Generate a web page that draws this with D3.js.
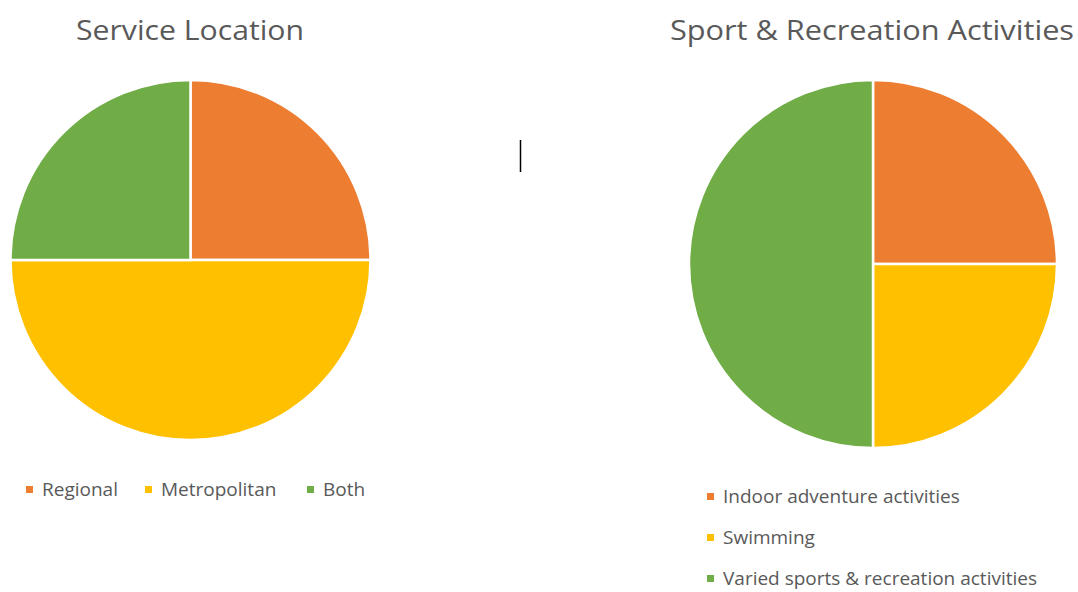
<!DOCTYPE html>
<html>
<head>
<meta charset="utf-8">
<script src="https://cdn.jsdelivr.net/npm/d3@7"></script>
<style>
  body { margin: 0; background: white; }
</style>
</head>
<body>
<svg id="chart"></svg>
<script>
// data
let location_labels = ["Regional", "Metropolitan", "Both"];
let location_values = [1, 2, 1];
let activity_labels = ["Indoor adventure activities", "Swimming", "Varied sports & recreation activities"];
let activity_values = [1, 1, 2];
let colors = ["#ED7D31", "#FFC000", "#70AD47"];

let width = 1078;
let height = 592;
let font_family = "Open Sans";
let text_color = "#595959";

let svg = d3.select("#chart")
    .attr("width", width)
    .attr("height", height)
    .style("background-color", "white");

function drawPie(labels, values, cx, cy, r) {
    let pie = d3.pie().sort(null).value(d => d);
    let arc = d3.arc().innerRadius(0).outerRadius(r);
    let color = d3.scaleOrdinal().domain(labels).range(colors);

    let g = svg.append("g")
        .attr("transform", "translate(" + cx + "," + cy + ")");

    g.selectAll("path")
        .data(pie(values))
        .enter()
        .append("path")
        .attr("d", arc)
        .attr("fill", (d, i) => color(labels[i]))
        .attr("stroke", "white")
        .attr("stroke-width", 2.5);
}

function drawTitle(text, x, y, w) {
    svg.append("text")
        .attr("x", x)
        .attr("y", y)
        .attr("text-anchor", "middle")
        .attr("font-family", font_family)
        .attr("font-size", "28px")
        .attr("fill", text_color)
        .attr("textLength", w)
        .attr("lengthAdjust", "spacingAndGlyphs")
        .text(text);
}

function legendItem(label, x, y, col) {
    svg.append("rect")
        .attr("x", x)
        .attr("y", y - 3.5)
        .attr("width", 7)
        .attr("height", 7)
        .attr("fill", col);
    svg.append("text")
        .attr("x", x + 16)
        .attr("y", y + 6.5)
        .attr("font-family", font_family)
        .attr("font-size", "19px")
        .attr("fill", text_color)
        .text(label);
}

// left chart
drawTitle("Service Location", 190, 40, 228);
drawPie(location_labels, location_values, 190.5, 260, 180);
let leftX = [26, 145, 307];
location_labels.forEach((l, i) => legendItem(l, leftX[i], 489.5, colors[i]));

// right chart
drawTitle("Sport & Recreation Activities", 872, 40, 404);
drawPie(activity_labels, activity_values, 873, 264, 184);
activity_labels.forEach((l, i) => legendItem(l, 707, 496.5 + i * 41, colors[i]));

// stray text cursor
svg.append("line")
    .attr("x1", 520.5)
    .attr("y1", 140)
    .attr("x2", 520.5)
    .attr("y2", 172)
    .attr("stroke", "black")
    .attr("stroke-width", 1.5);
</script>
</body>
</html>
